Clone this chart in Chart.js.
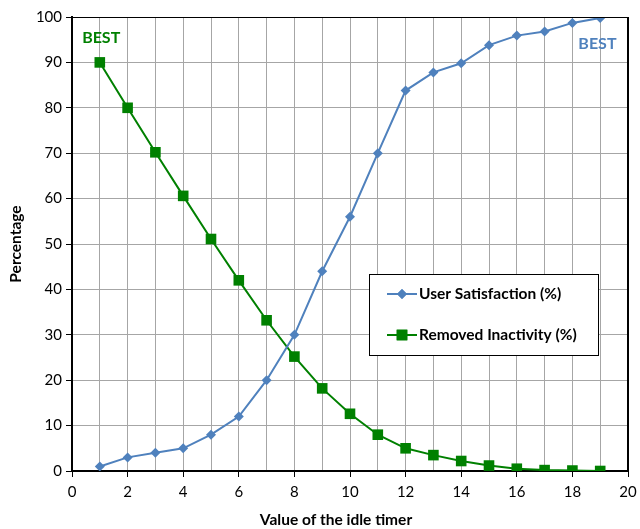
<!DOCTYPE html>
<html>
<head>
<meta charset="utf-8">
<script src="https://cdn.jsdelivr.net/npm/chart.js@4"></script>
<style>
  html, body { margin: 0; padding: 0; background: #fff; }
  #wrap { width: 640px; height: 529px; position: relative; }
</style>
</head>
<body>
<div id="wrap"><canvas id="chart"></canvas></div>
<script>
// idle timer values (x)
const timerValues = [1, 2, 3, 4, 5, 6, 7, 8, 9, 10, 11, 12, 13, 14, 15, 16, 17, 18, 19];
// User Satisfaction (%)
const satisfaction = [1, 3, 4, 5, 8, 12, 20, 30, 44, 56, 70, 83.8, 87.8, 89.8, 93.8, 95.9, 96.8, 98.7, 99.8];
// Removed Inactivity (%)
const removedInactivity = [90, 80, 70.2, 60.6, 51.1, 42, 33.2, 25.2, 18.2, 12.6, 8, 5, 3.5, 2.2, 1.2, 0.5, 0.2, 0.1, 0];

const xTitle = "Value of the idle timer";
const yTitle = "Percentage";
const seriesNames = ["User Satisfaction (%)", "Removed Inactivity (%)"];

const BLUE  = "#4f81bd";
const GREEN = "#008000";
const FONT  = "Lato, 'Open Sans', sans-serif";

const toPoints = (ys) => ys.map((y, i) => ({ x: timerValues[i], y }));

// 凡例・BEST ラベル・軸タイトル・外枠を描くプラグイン
const annotations = {
  id: "annotations",
  afterDraw(chart) {
    const ctx = chart.ctx;
    const { left, right, top, bottom } = chart.chartArea;
    const xs = chart.scales.x, ys = chart.scales.y;
    ctx.save();

    // frame (top / right)
    ctx.strokeStyle = "#000";
    ctx.lineWidth = 1;
    ctx.beginPath();
    ctx.moveTo(left, top + 0.5);
    ctx.lineTo(right - 0.5, top + 0.5);
    ctx.lineTo(right - 0.5, bottom);
    ctx.stroke();

    // BEST labels
    ctx.font = "bold 16px " + FONT;
    ctx.textAlign = "center";
    ctx.textBaseline = "middle";
    ctx.fillStyle = GREEN;
    ctx.fillText("BEST", xs.getPixelForValue(1.05), ys.getPixelForValue(95.5));
    ctx.fillStyle = BLUE;
    ctx.fillText("BEST", xs.getPixelForValue(18.9), ys.getPixelForValue(94));

    // legend box
    const lx = 369, ly = 274, lw = 229, lh = 81;
    ctx.fillStyle = "#fff";
    ctx.fillRect(lx, ly, lw, lh);
    ctx.strokeStyle = "#000";
    ctx.lineWidth = 1;
    ctx.strokeRect(lx + 0.5, ly + 0.5, lw, lh);
    const rows = [
      { name: seriesNames[0], color: BLUE,  style: "rectRot", r: 5, y: ly + 20 },
      { name: seriesNames[1], color: GREEN, style: "rect",    r: 7.5, y: ly + 61 },
    ];
    ctx.font = "bold 15.5px " + FONT;
    ctx.textAlign = "left";
    rows.forEach(row => {
      ctx.strokeStyle = row.color;
      ctx.lineWidth = 2;
      ctx.beginPath();
      ctx.moveTo(lx + 18, row.y);
      ctx.lineTo(lx + 48, row.y);
      ctx.stroke();
      ctx.fillStyle = row.color;
      Chart.helpers.drawPoint(ctx, { pointStyle: row.style, radius: row.r, borderWidth: 0 }, lx + 33, row.y);
      ctx.fill();
      ctx.fillStyle = "#000";
      ctx.fillText(row.name, lx + 50, row.y);
    });

    // axis titles
    ctx.fillStyle = "#000";
    ctx.font = "bold 15.5px " + FONT;
    ctx.textAlign = "center";
    ctx.fillText(xTitle, 336, 520);
    ctx.translate(16, 244);
    ctx.rotate(-Math.PI / 2);
    ctx.fillText(yTitle, 0, 0);
    ctx.restore();
  },
};

new Chart(document.getElementById("chart"), {
  type: "line",
  data: {
    datasets: [
      {
        label: seriesNames[0],
        data: toPoints(satisfaction),
        borderColor: BLUE,
        backgroundColor: BLUE,
        borderWidth: 2,
        pointStyle: "rectRot",
        pointRadius: 5,
        pointBorderWidth: 0,
        tension: 0,
      },
      {
        label: seriesNames[1],
        data: toPoints(removedInactivity),
        borderColor: GREEN,
        backgroundColor: GREEN,
        borderWidth: 2,
        pointStyle: "rect",
        pointRadius: 7.5,
        pointBorderWidth: 0,
        tension: 0,
      },
    ],
  },
  options: {
    responsive: true,
    maintainAspectRatio: false,
    animation: false,
    layout: { padding: { top: 17, right: 12, left: 0, bottom: 0 } },
    plugins: {
      legend: { display: false },
      tooltip: { enabled: false },
    },
    scales: {
      x: {
        type: "linear",
        min: 0,
        max: 20,
        afterFit: (s) => { s.height = 58; s.paddingRight = 0; s.paddingLeft = 0; },
        ticks: {
          stepSize: 1,
          autoSkip: false,
          maxRotation: 0,
          padding: 6,
          color: "#000",
          font: { family: FONT, size: 15 },
          callback: (v) => (v % 2 === 0 ? v : ""),
        },
        grid: {
          color: (c) => (c.tick && c.tick.value === 20 ? "#000" : "#a6a6a6"),
          tickColor: (c) => (c.tick && c.tick.value % 2 === 0 ? "#000" : "rgba(0,0,0,0)"),
          tickLength: 6,
          lineWidth: 1,
        },
        border: { color: "#000", width: 2 },
      },
      y: {
        min: 0,
        max: 100,
        afterFit: (s) => { s.width = 72; },
        ticks: {
          stepSize: 10,
          padding: 4,
          color: "#000",
          font: { family: FONT, size: 15 },
        },
        grid: {
          color: (c) => (c.tick && c.tick.value === 100 ? "#000" : "#a6a6a6"),
          tickColor: "#000",
          tickLength: 6,
          lineWidth: 1,
        },
        border: { color: "#000", width: 2 },
      },
    },
  },
  plugins: [annotations],
});
</script>
</body>
</html>
